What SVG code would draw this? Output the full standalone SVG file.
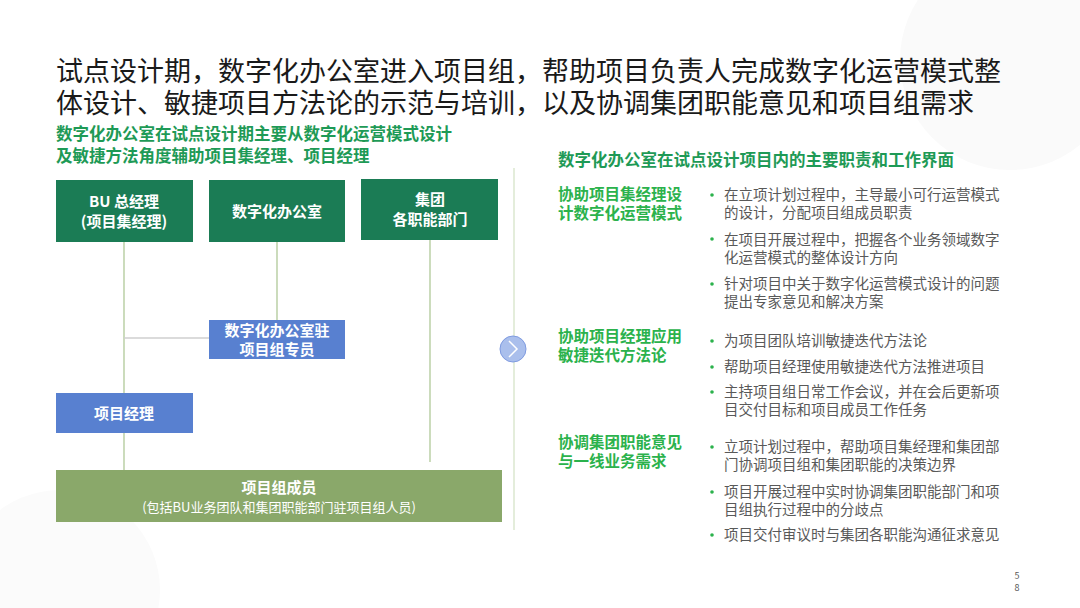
<svg xmlns="http://www.w3.org/2000/svg" width="1080" height="608" viewBox="0 0 1080 608">
<style>
text{font-family:"Noto Sans CJK SC","Noto Sans",sans-serif}
.t{font-size:27px;fill:#1a1a1a}
.g{font-size:16.5px;font-weight:bold;fill:#1e9a56}
.s{font-size:15.5px;font-weight:bold;fill:#2bb24c}
.b{font-size:14.5px;fill:#595959}
.d{fill:#2bb24c}
.w{font-size:15px;font-weight:bold;fill:#fff;text-anchor:middle}
.ln{stroke:#a9c48f;stroke-width:1.2;fill:none}
</style>
<rect width="1080" height="608" fill="#fff"/>
<circle cx="1010" cy="60" r="110" fill="#fafafa"/>
<circle cx="60" cy="590" r="100" fill="#fbfbfb"/>
<text class="t" x="56" y="81">试点设计期，数字化办公室进入项目组，帮助项目负责人完成数字化运营模式整</text>
<text class="t" x="56" y="113">体设计、敏捷项目方法论的示范与培训，以及协调集团职能意见和项目组需求</text>
<text class="g" x="56" y="140">数字化办公室在试点设计期主要从数字化运营模式设计</text>
<text class="g" x="56" y="162">及敏捷方法角度辅助项目集经理、项目经理</text>
<g id="connectors">
<line class="ln" x1="124" y1="242" x2="124" y2="470"/>
<line x1="124" y1="338" x2="209" y2="338" stroke="#cfcfcf" stroke-width="1.5"/>
<line class="ln" x1="277" y1="242" x2="277" y2="320"/>
<line class="ln" x1="430" y1="240" x2="430" y2="462"/>
</g>
<g id="n1"><rect x="56" y="180" width="137" height="62" fill="#1b7c55"/><text class="w" x="124" y="207">BU 总经理</text><text class="w" x="124" y="227">(项目集经理)</text></g>
<g id="n2"><rect x="209" y="180" width="136" height="62" fill="#1b7c55"/><text class="w" x="277" y="217">数字化办公室</text></g>
<g id="n3"><rect x="361" y="179" width="137" height="61" fill="#1b7c55"/><text class="w" x="430" y="205">集团</text><text class="w" x="430" y="225">各职能部门</text></g>
<g id="n4"><rect x="209" y="320" width="136" height="39" fill="#5880d0"/><text class="w" x="277" y="336">数字化办公室驻</text><text class="w" x="277" y="355">项目组专员</text></g>
<g id="n5"><rect x="56" y="393" width="137" height="40" fill="#5880d0"/><text class="w" x="124" y="419">项目经理</text></g>
<g id="n6"><rect x="56" y="470" width="446" height="52" fill="#8aa86a"/><text class="w" x="279" y="493">项目组成员</text><text x="279" y="512" font-size="13" fill="#fff" text-anchor="middle">(包括BU业务团队和集团职能部门驻项目组人员)</text></g>
<line x1="514" y1="168" x2="514" y2="530" stroke="#dbe7cf" stroke-width="1.5"/>
<circle cx="513" cy="349" r="13" fill="#aabfec" stroke="#7f9be0" stroke-width="1"/>
<polyline points="509,341 517,349 509,357" fill="none" stroke="#fff" stroke-width="1.5"/>
<text class="g" x="558" y="166">数字化办公室在试点设计项目内的主要职责和工作界面</text>
<text class="s" x="558" y="200">协助项目集经理设</text><text class="s" x="558" y="219">计数字化运营模式</text>
<text class="s" x="558" y="342">协助项目经理应用</text><text class="s" x="558" y="361">敏捷迭代方法论</text>
<text class="s" x="558" y="448">协调集团职能意见</text><text class="s" x="558" y="467">与一线业务需求</text>
<g class="d"><circle cx="712" cy="195" r="1.8"/><circle cx="712" cy="239" r="1.8"/><circle cx="712" cy="284" r="1.8"/><circle cx="712" cy="341" r="1.8"/><circle cx="712" cy="367" r="1.8"/><circle cx="712" cy="392" r="1.8"/><circle cx="712" cy="447" r="1.8"/><circle cx="712" cy="492" r="1.8"/><circle cx="712" cy="535" r="1.8"/></g>
<text class="b" x="724" y="200">在立项计划过程中，主导最小可行运营模式</text>
<text class="b" x="724" y="218">的设计，分配项目组成员职责</text>
<text class="b" x="724" y="245">在项目开展过程中，把握各个业务领域数字</text>
<text class="b" x="724" y="263">化运营模式的整体设计方向</text>
<text class="b" x="724" y="289">针对项目中关于数字化运营模式设计的问题</text>
<text class="b" x="724" y="307">提出专家意见和解决方案</text>
<text class="b" x="724" y="346">为项目团队培训敏捷迭代方法论</text>
<text class="b" x="724" y="372">帮助项目经理使用敏捷迭代方法推进项目</text>
<text class="b" x="724" y="397">主持项目组日常工作会议，并在会后更新项</text>
<text class="b" x="724" y="415">目交付目标和项目成员工作任务</text>
<text class="b" x="724" y="452">立项计划过程中，帮助项目集经理和集团部</text>
<text class="b" x="724" y="470">门协调项目组和集团职能的决策边界</text>
<text class="b" x="724" y="497">项目开展过程中实时协调集团职能部门和项</text>
<text class="b" x="724" y="515">目组执行过程中的分歧点</text>
<text class="b" x="724" y="540">项目交付审议时与集团各职能沟通征求意见</text>
<text x="1017" y="579" font-size="9" fill="#595959" text-anchor="middle">5</text>
<text x="1017" y="591" font-size="9" fill="#595959" text-anchor="middle">8</text>
</svg>
